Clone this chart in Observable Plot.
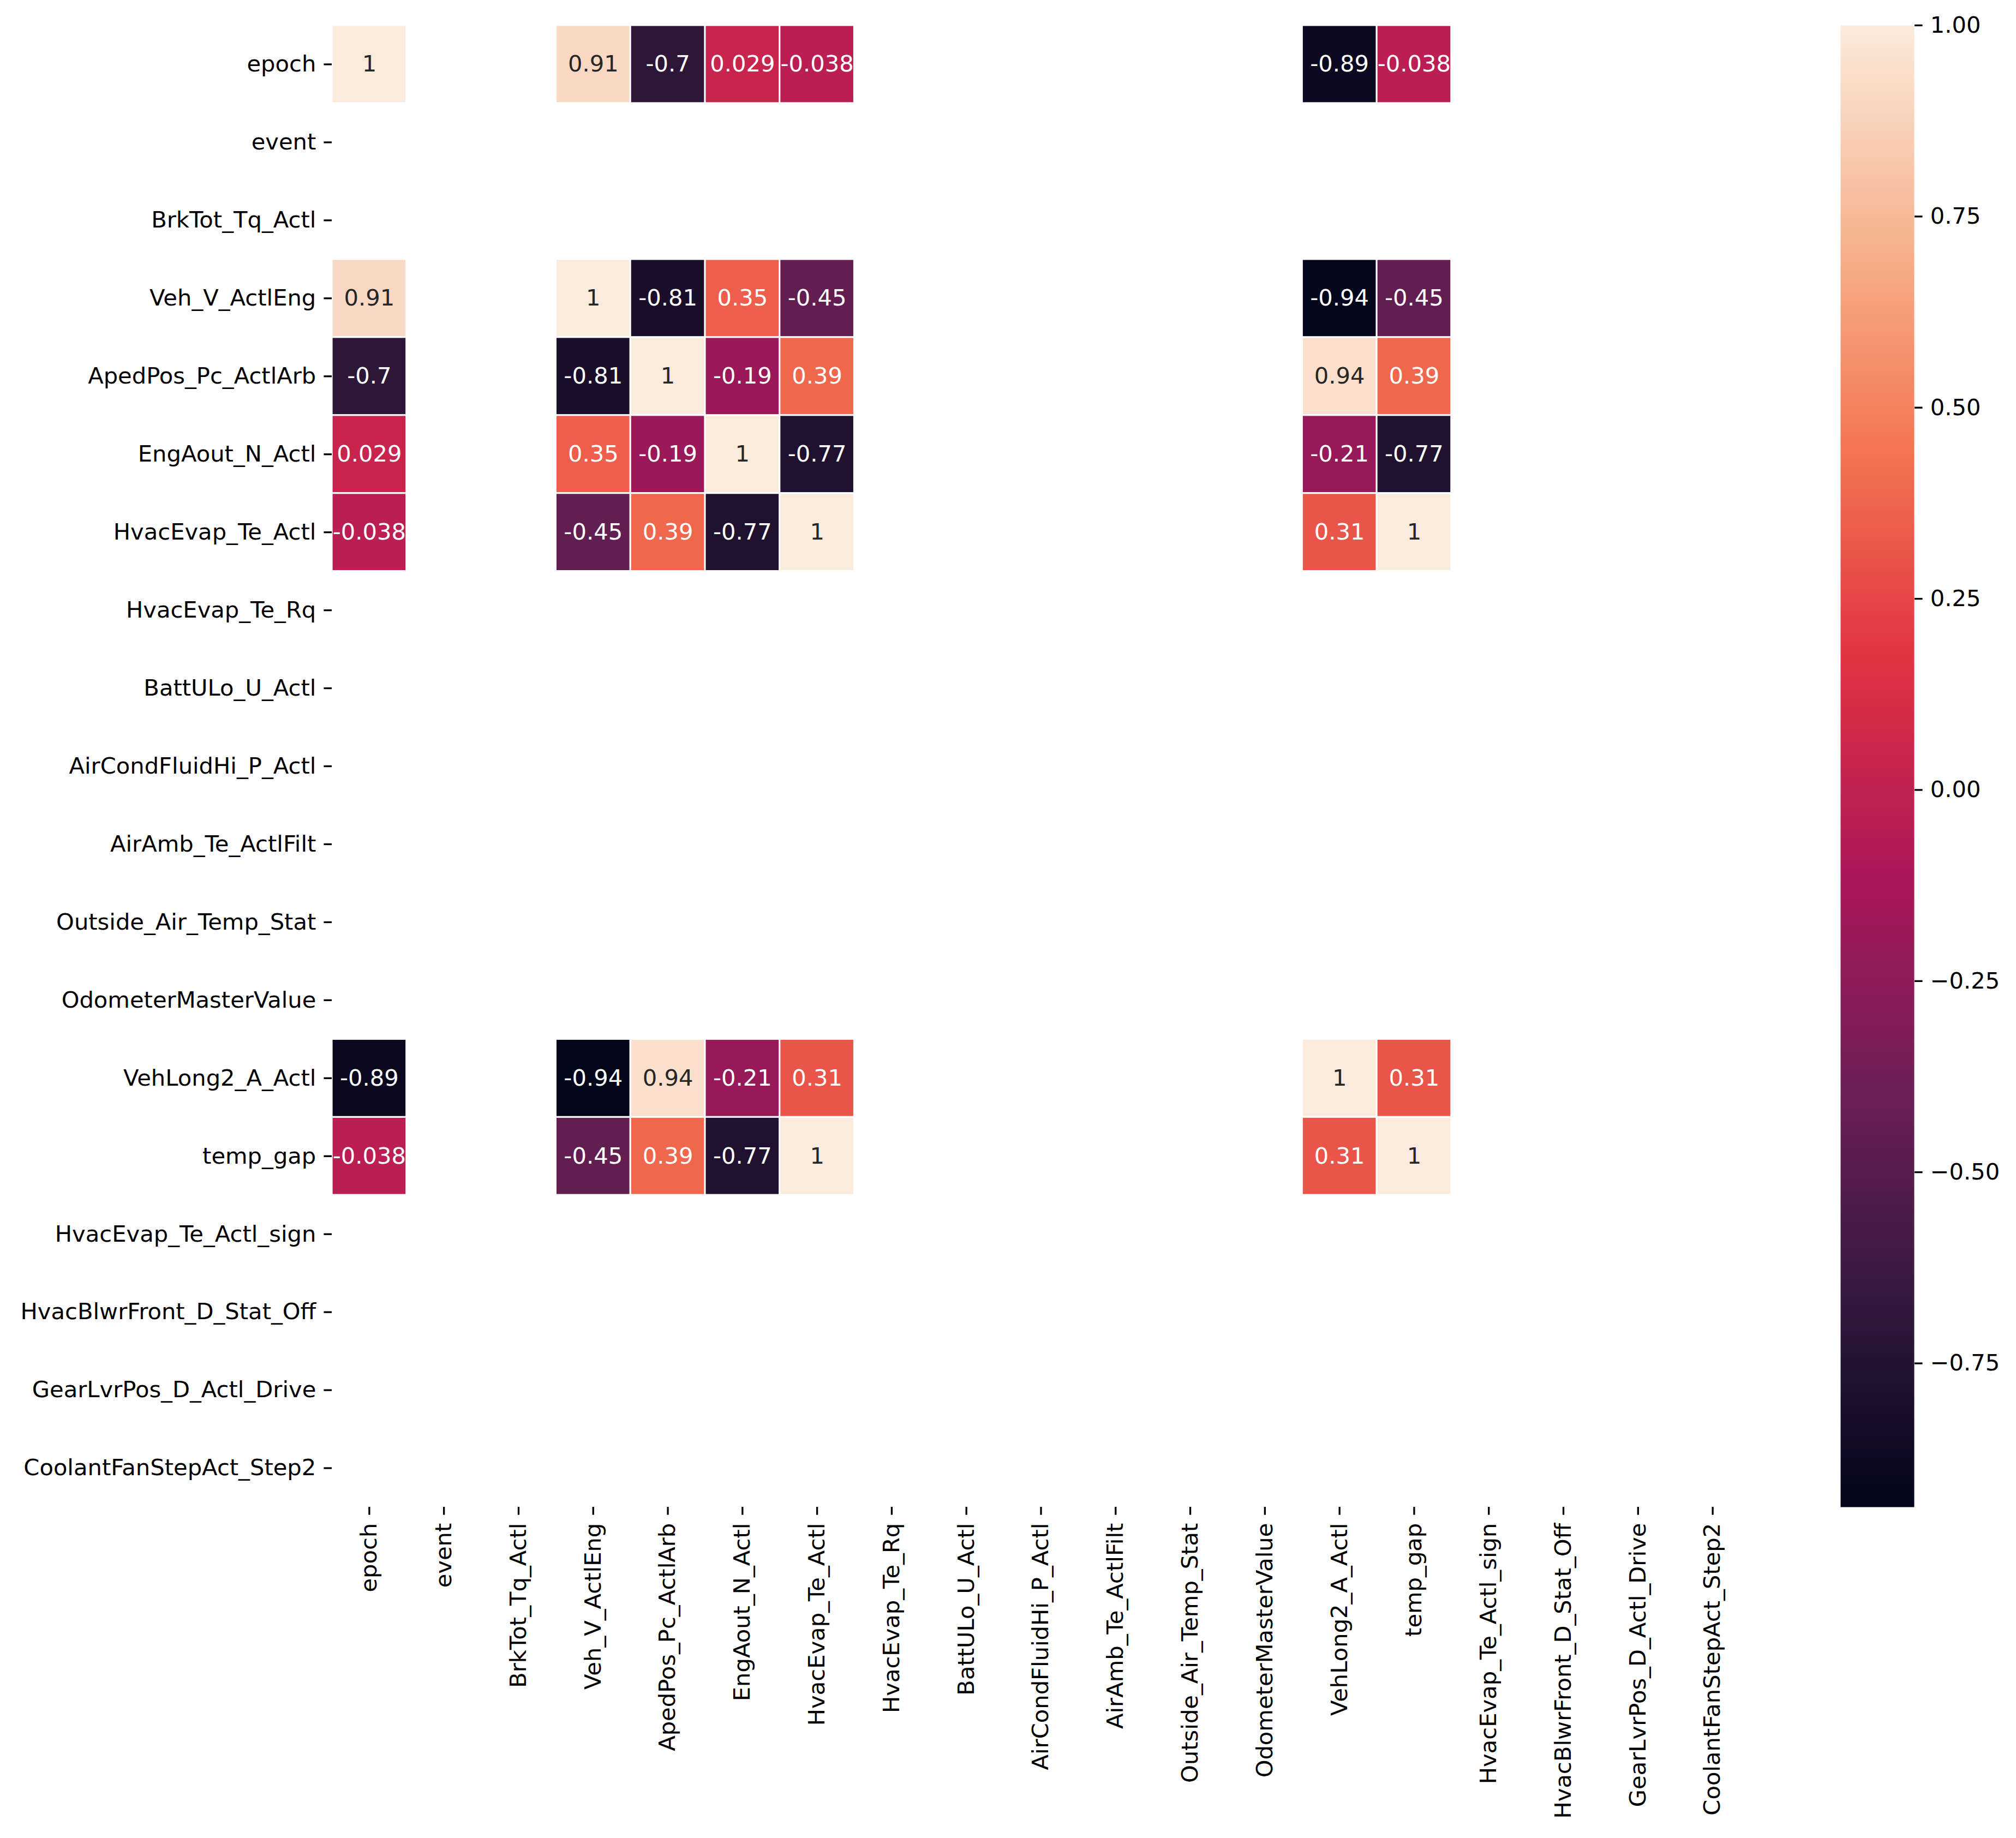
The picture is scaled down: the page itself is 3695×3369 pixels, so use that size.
<!DOCTYPE html>
<html>
<head>
<meta charset="utf-8">
<script src="https://cdn.jsdelivr.net/npm/d3@7"></script>
<script src="https://cdn.jsdelivr.net/npm/@observablehq/plot@0.6"></script>
<style>
  html, body { margin: 0; padding: 0; background: white; }
  #wrap { position: relative; width: 3695px; height: 3369px; }
  #wrap > svg { position: absolute; left: 0; top: 0; }
</style>
</head>
<body>
<div id="wrap"></div>
<script>
// All variables (axis tick labels, in order)
const labels = [
  "epoch", "event", "BrkTot_Tq_Actl", "Veh_V_ActlEng", "ApedPos_Pc_ActlArb",
  "EngAout_N_Actl", "HvacEvap_Te_Actl", "HvacEvap_Te_Rq", "BattULo_U_Actl",
  "AirCondFluidHi_P_Actl", "AirAmb_Te_ActlFilt", "Outside_Air_Temp_Stat",
  "OdometerMasterValue", "VehLong2_A_Actl", "temp_gap", "HvacEvap_Te_Actl_sign",
  "HvacBlwrFront_D_Stat_Off", "GearLvrPos_D_Actl_Drive", "CoolantFanStepAct_Step2"
];
// Variables with defined correlations (others are NaN / blank)
const corrVars = [
  "epoch", "Veh_V_ActlEng", "ApedPos_Pc_ActlArb", "EngAout_N_Actl",
  "HvacEvap_Te_Actl", "VehLong2_A_Actl", "temp_gap"
];
const corrEpoch    = [1, 0.91, -0.7, 0.029, -0.038, -0.89, -0.038];
const corrVehV     = [0.91, 1, -0.81, 0.35, -0.45, -0.94, -0.45];
const corrAped     = [-0.7, -0.81, 1, -0.19, 0.39, 0.94, 0.39];
const corrEngAout  = [0.029, 0.35, -0.19, 1, -0.77, -0.21, -0.77];
const corrHvacEvap = [-0.038, -0.45, 0.39, -0.77, 1, 0.31, 1];
const corrVehLong2 = [-0.89, -0.94, 0.94, -0.21, 0.31, 1, 0.31];
const corrTempGap  = [-0.038, -0.45, 0.39, -0.77, 1, 0.31, 1];
const corrRows = [corrEpoch, corrVehV, corrAped, corrEngAout, corrHvacEvap, corrVehLong2, corrTempGap];

// colorbar
const colorMin = -0.938, colorMax = 1;
const colorTicks = [1, 0.75, 0.5, 0.25, 0, -0.25, -0.5, -0.75];
// seaborn "rocket" colormap stops (evenly spaced)
const rocket = ["#03051a", "#35193e", "#701f57", "#ad1759", "#e13342", "#f37651", "#f6b48f", "#faebdd"];

(function () {
  const cells = [];
  corrRows.forEach((row, i) => row.forEach((v, j) => cells.push({row: corrVars[i], col: corrVars[j], value: v})));

  const interp = d3.piecewise(d3.interpolateRgb, rocket);
  const tOf = v => Math.max(0, Math.min(1, (v - colorMin) / (colorMax - colorMin)));
  function lum(c) {
    const r = d3.rgb(c);
    const f = x => { x /= 255; return x <= 0.03928 ? x / 12.92 : Math.pow((x + 0.055) / 1.055, 2.4); };
    return 0.2126 * f(r.r) + 0.7152 * f(r.g) + 0.0722 * f(r.b);
  }
  const textColor = d => lum(interp(tOf(d.value))) > 0.408 ? "#262626" : "#ffffff";

  const W = 3695, H = 3369;
  const FS = 41.67;
  const pLeft = 608, pRight = 3207, pTop = 46, pBottom = 2762;
  const tick = 14.6;
  const font = {fontFamily: "'DejaVu Sans', sans-serif", fontSize: FS + "px", background: "transparent", color: "black"};

  const colorScale = {type: "linear", domain: [colorMin, colorMax], interpolate: interp, clamp: true};

  const heat = Plot.plot({
    width: W, height: H,
    marginLeft: pLeft, marginRight: W - pRight, marginTop: pTop, marginBottom: H - pBottom,
    style: font,
    x: {type: "band", domain: labels, padding: 0, round: false},
    y: {type: "band", domain: labels, padding: 0, round: false},
    color: colorScale,
    marks: [
      Plot.cell(cells, {x: "col", y: "row", fill: "value", inset: 1.6}),
      Plot.text(cells, {x: "col", y: "row", text: d => String(d.value), fill: textColor, fontSize: FS}),
      Plot.axisX({anchor: "bottom", tickSize: tick, tickPadding: tick, tickRotate: -90, strokeWidth: 3.3, fontSize: FS, label: null}),
      Plot.axisY({anchor: "left", tickSize: tick, tickPadding: tick, strokeWidth: 3.3, fontSize: FS, label: null})
    ]
  });

  const cbLeft = 3373, cbRight = 3508;
  const bar = Plot.plot({
    width: W, height: H,
    marginLeft: cbLeft, marginRight: W - cbRight, marginTop: pTop, marginBottom: H - pBottom,
    style: font,
    x: {domain: [0, 1], axis: null},
    y: {domain: [colorMin, colorMax]},
    color: colorScale,
    marks: [
      Plot.raster({x1: 0, x2: 1, y1: colorMin, y2: colorMax, width: 1, height: 1200, fill: (x, y) => y, imageRendering: "auto"}),
      Plot.axisY({anchor: "right", ticks: colorTicks, tickFormat: d3.format(".2f"), tickSize: tick, tickPadding: tick, strokeWidth: 3.3, fontSize: FS, label: null})
    ]
  });

  document.getElementById("wrap").append(bar, heat);
})();
</script>
</body>
</html>
